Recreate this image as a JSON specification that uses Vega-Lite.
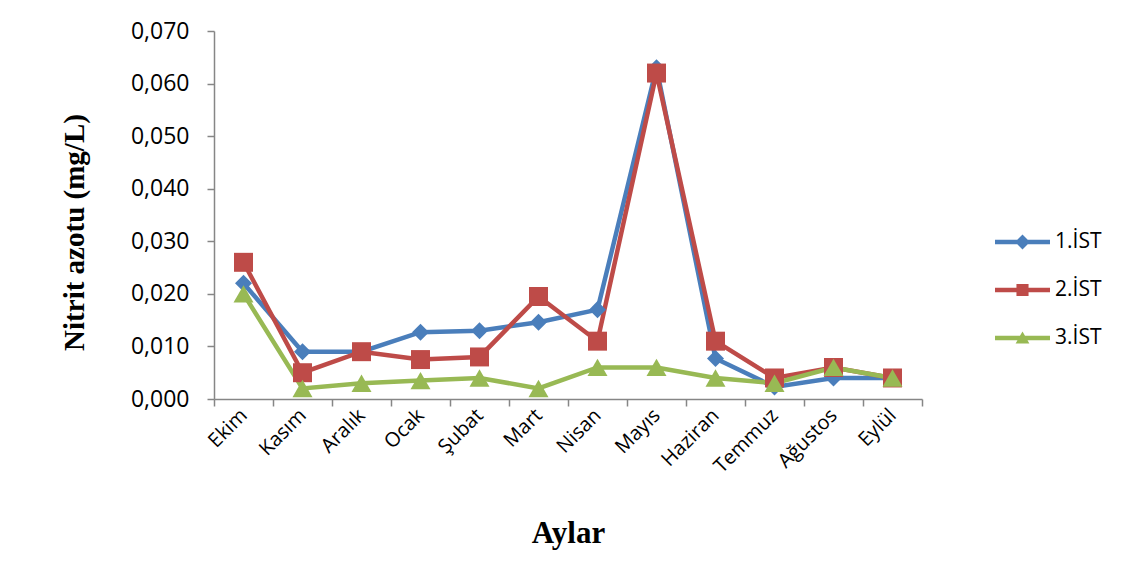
{
  "$schema": "https://vega.github.io/schema/vega-lite/v6.json",
  "autosize": "none",
  "width": 708,
  "height": 368,
  "padding": {"left": 214, "top": 31, "right": 215, "bottom": 182},
  "background": "white",
  "config": {"view": {"stroke": null}},
  "data": {"values": [
    {"ay": "Ekim", "ist": "1.İST", "v": 0.022},
    {"ay": "Kasım", "ist": "1.İST", "v": 0.009},
    {"ay": "Aralık", "ist": "1.İST", "v": 0.009},
    {"ay": "Ocak", "ist": "1.İST", "v": 0.0127},
    {"ay": "Şubat", "ist": "1.İST", "v": 0.013},
    {"ay": "Mart", "ist": "1.İST", "v": 0.0146},
    {"ay": "Nisan", "ist": "1.İST", "v": 0.017},
    {"ay": "Mayıs", "ist": "1.İST", "v": 0.063},
    {"ay": "Haziran", "ist": "1.İST", "v": 0.0077},
    {"ay": "Temmuz", "ist": "1.İST", "v": 0.0023},
    {"ay": "Ağustos", "ist": "1.İST", "v": 0.004},
    {"ay": "Eylül", "ist": "1.İST", "v": 0.004},
    {"ay": "Ekim", "ist": "2.İST", "v": 0.026},
    {"ay": "Kasım", "ist": "2.İST", "v": 0.005},
    {"ay": "Aralık", "ist": "2.İST", "v": 0.009},
    {"ay": "Ocak", "ist": "2.İST", "v": 0.0075},
    {"ay": "Şubat", "ist": "2.İST", "v": 0.008},
    {"ay": "Mart", "ist": "2.İST", "v": 0.0195},
    {"ay": "Nisan", "ist": "2.İST", "v": 0.011},
    {"ay": "Mayıs", "ist": "2.İST", "v": 0.062},
    {"ay": "Haziran", "ist": "2.İST", "v": 0.011},
    {"ay": "Temmuz", "ist": "2.İST", "v": 0.004},
    {"ay": "Ağustos", "ist": "2.İST", "v": 0.006},
    {"ay": "Eylül", "ist": "2.İST", "v": 0.004},
    {"ay": "Ekim", "ist": "3.İST", "v": 0.020},
    {"ay": "Kasım", "ist": "3.İST", "v": 0.002},
    {"ay": "Aralık", "ist": "3.İST", "v": 0.003},
    {"ay": "Ocak", "ist": "3.İST", "v": 0.0035},
    {"ay": "Şubat", "ist": "3.İST", "v": 0.004},
    {"ay": "Mart", "ist": "3.İST", "v": 0.002},
    {"ay": "Nisan", "ist": "3.İST", "v": 0.006},
    {"ay": "Mayıs", "ist": "3.İST", "v": 0.006},
    {"ay": "Haziran", "ist": "3.İST", "v": 0.004},
    {"ay": "Temmuz", "ist": "3.İST", "v": 0.003},
    {"ay": "Ağustos", "ist": "3.İST", "v": 0.006},
    {"ay": "Eylül", "ist": "3.İST", "v": 0.004}
  ]},
  "encoding": {
    "x": {
      "field": "ay", "type": "nominal",
      "sort": ["Ekim","Kasım","Aralık","Ocak","Şubat","Mart","Nisan","Mayıs","Haziran","Temmuz","Ağustos","Eylül"],
      "scale": {"type": "band", "paddingInner": 0, "paddingOuter": 0},
      "axis": {
        "title": "Aylar",
        "titleFont": "Liberation Serif", "titleFontSize": 31, "titleFontWeight": "bold", "titleColor": "black",
        "titlePadding": 42,
        "labelAngle": -45, "labelAlign": "right", "labelBaseline": "middle",
        "labelFont": "Open Sans", "labelFontSize": 20, "labelColor": "black", "labelPadding": 6,
        "tickBand": "extent", "tickSize": 7, "tickColor": "#868686", "tickWidth": 1.5,
        "domainColor": "#868686", "domainWidth": 1.5, "grid": false
      }
    },
    "y": {
      "field": "v", "type": "quantitative",
      "scale": {"domain": [0, 0.07], "nice": false},
      "axis": {
        "title": "Nitrit azotu (mg/L)",
        "titleFont": "Liberation Serif", "titleFontSize": 29, "titleFontWeight": "bold", "titleColor": "black",
        "titlePadding": 41, "titleY": 201,
        "values": [0, 0.01, 0.02, 0.03, 0.04, 0.05, 0.06, 0.07],
        "labelExpr": "replace(format(datum.value, '.3f'), '.', ',')",
        "labelFont": "Open Sans", "labelFontSize": 23, "labelColor": "black", "labelPadding": 18,
        "tickSize": 7, "tickColor": "#868686", "tickWidth": 1.5,
        "domainColor": "#868686", "domainWidth": 1.5, "grid": false
      }
    }
  },
  "layer": [
    {
      "mark": {"type": "line", "strokeWidth": 4.5},
      "encoding": {
        "color": {
          "field": "ist", "type": "nominal",
          "scale": {"domain": ["1.İST", "2.İST", "3.İST"], "range": ["#4A7EBB", "#BE4B48", "#98B954"]},
          "legend": {
            "title": null, "orient": "none", "legendX": 793.5, "legendY": 196,
            "labelFont": "Open Sans", "labelFontSize": 21, "labelColor": "black",
            "symbolSize": 900, "rowPadding": 23, "labelOffset": 17.5, "symbolStrokeWidth": 0,
            "encode": {
              "symbols": {
                "shape": {"value": {"expr": "datum.value === '1.İST' ? 'M-1.833,-0.147L-0.348,-0.147L0,-0.495L0.348,-0.147L1.833,-0.147L1.833,0.147L0.348,0.147L0,0.495L-0.348,0.147L-1.833,0.147Z' : datum.value === '2.İST' ? 'M-1.833,-0.147L-0.403,-0.147L-0.403,-0.403L0.403,-0.403L0.403,-0.147L1.833,-0.147L1.833,0.147L0.403,0.147L0.403,0.403L-0.403,0.403L-0.403,0.147L-1.833,0.147Z' : 'M-1.833,-0.147L-0.167,-0.147L0,-0.44L0.167,-0.147L1.833,-0.147L1.833,0.147L0.334,0.147L0.458,0.367L-0.458,0.367L-0.334,0.147L-1.833,0.147Z'"}},
                "fill": {"value": {"expr": "datum.value === '1.İST' ? '#4A7EBB' : datum.value === '2.İST' ? '#BE4B48' : '#98B954'"}},
                "size": {"value": 900},
                "strokeWidth": {"value": 0},
                "update": {
                  "shape": {"signal": "datum.value === '1.İST' ? 'M-1.833,-0.147L-0.348,-0.147L0,-0.495L0.348,-0.147L1.833,-0.147L1.833,0.147L0.348,0.147L0,0.495L-0.348,0.147L-1.833,0.147Z' : datum.value === '2.İST' ? 'M-1.833,-0.147L-0.403,-0.147L-0.403,-0.403L0.403,-0.403L0.403,-0.147L1.833,-0.147L1.833,0.147L0.403,0.147L0.403,0.403L-0.403,0.403L-0.403,0.147L-1.833,0.147Z' : 'M-1.833,-0.147L-0.167,-0.147L0,-0.44L0.167,-0.147L1.833,-0.147L1.833,0.147L0.334,0.147L0.458,0.367L-0.458,0.367L-0.334,0.147L-1.833,0.147Z'"},
                  "fill": {"signal": "datum.value === '1.İST' ? '#4A7EBB' : datum.value === '2.İST' ? '#BE4B48' : '#98B954'"},
                  "size": {"value": 900},
                  "strokeWidth": {"value": 0}
                }
              }
            }
          }
        }
      }
    },
    {
      "transform": [{"filter": "datum.ist === '1.İST'"}],
      "mark": {"type": "point", "filled": true, "opacity": 1, "shape": "diamond", "size": 290, "color": "#4A7EBB"}
    },
    {
      "transform": [{"filter": "datum.ist === '2.İST'"}],
      "mark": {"type": "point", "filled": true, "opacity": 1, "shape": "square", "size": 360, "color": "#BE4B48"}
    },
    {
      "transform": [{"filter": "datum.ist === '3.İST'"}],
      "mark": {"type": "point", "filled": true, "opacity": 1, "shape": "triangle-up", "size": 400, "color": "#98B954"}
    }
  ]
}
